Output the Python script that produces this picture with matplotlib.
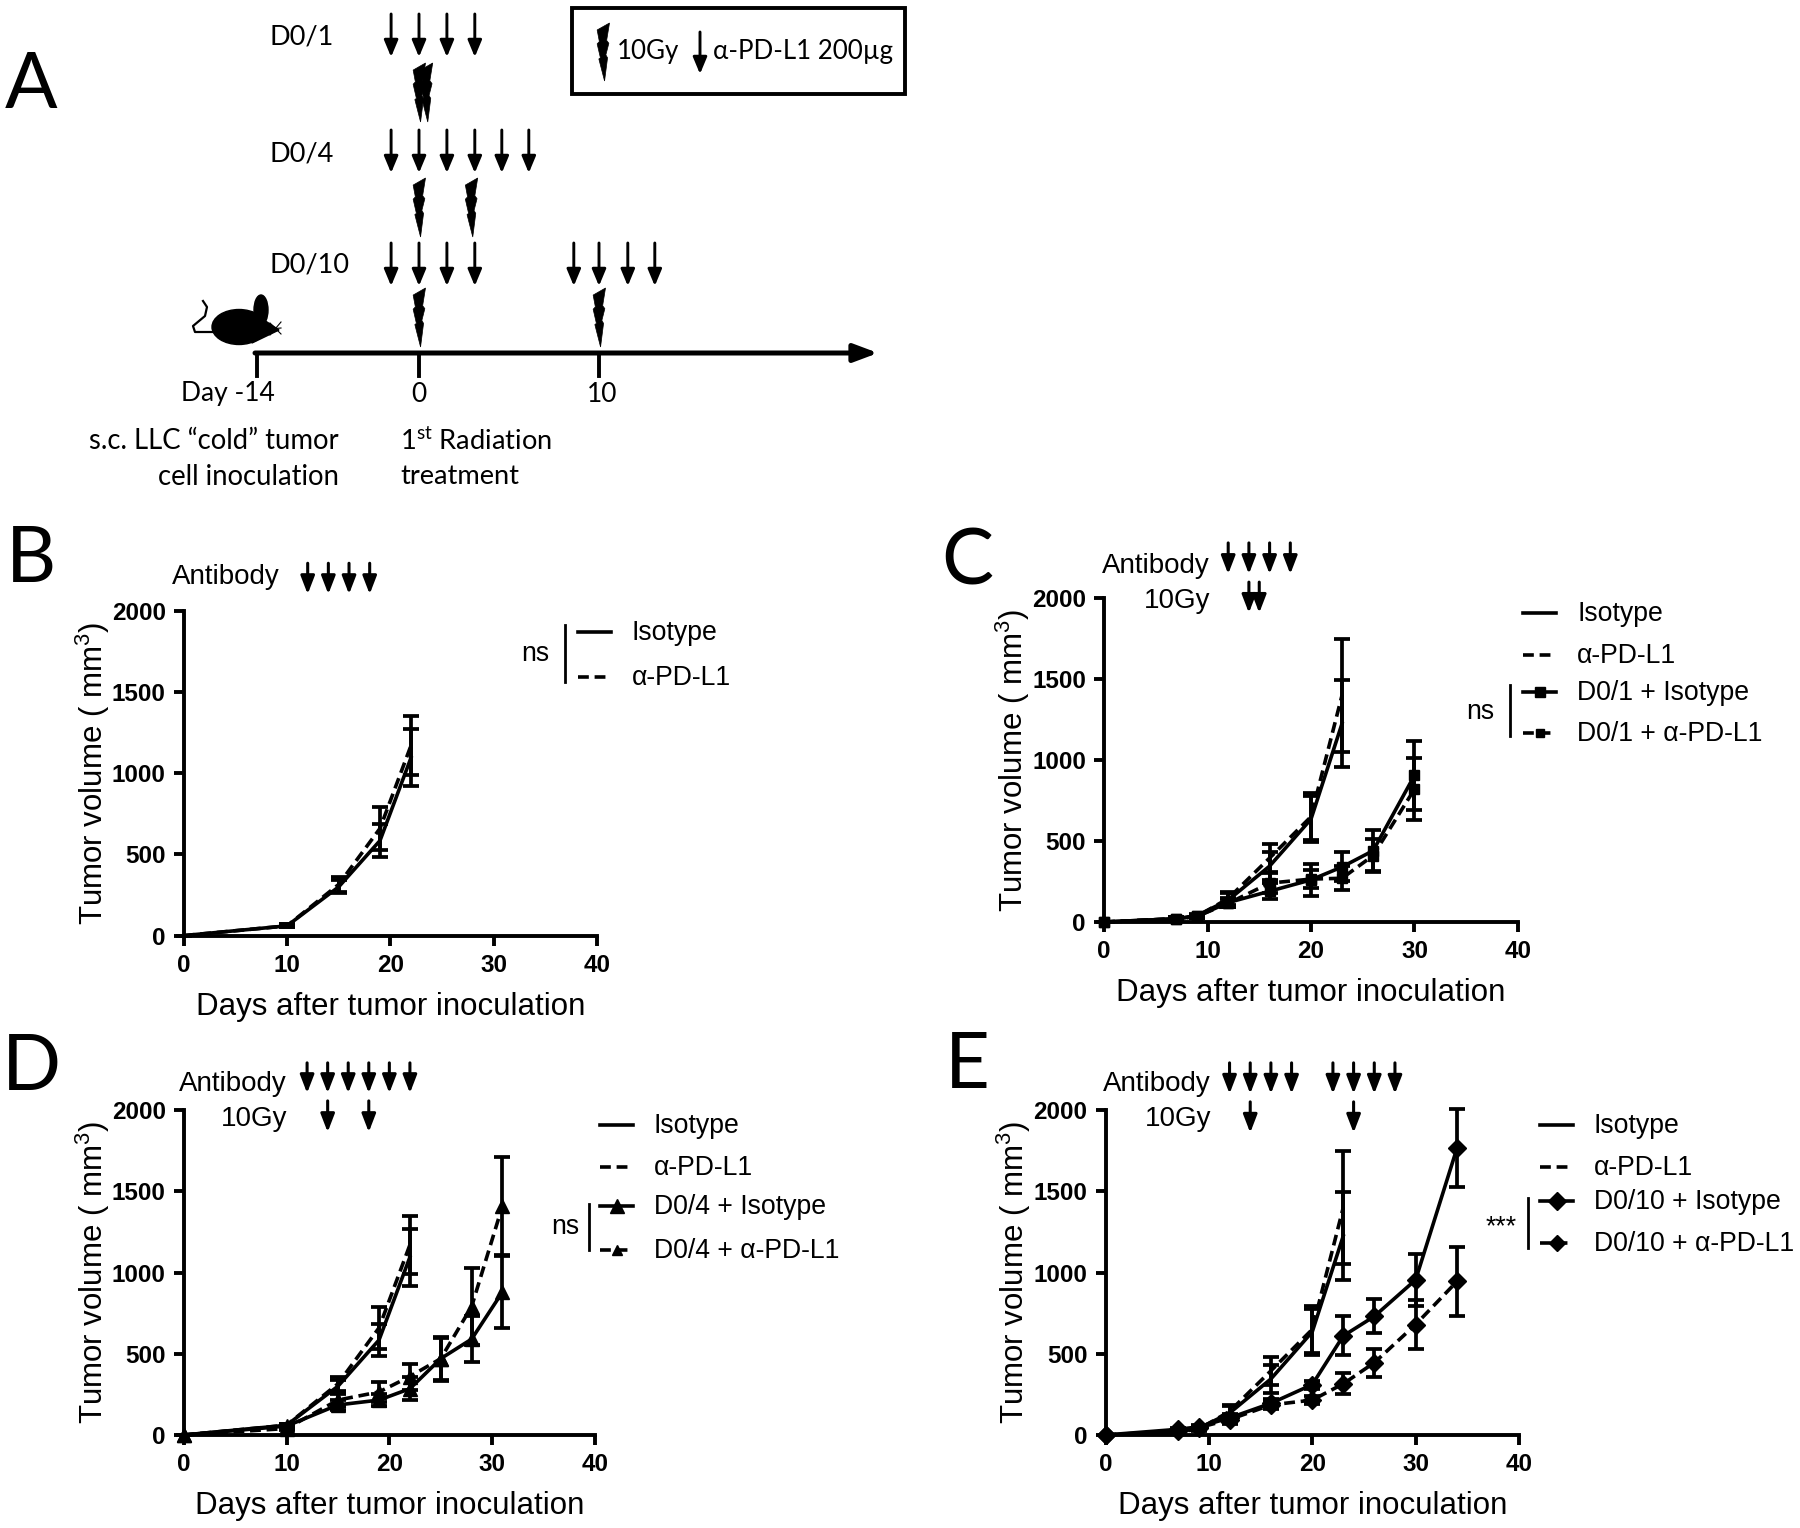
import matplotlib
matplotlib.use("Agg")
import matplotlib.pyplot as plt
from matplotlib.patches import Ellipse, Polygon, Rectangle
from matplotlib.transforms import blended_transform_factory

plt.rcParams['font.family'] = ['Liberation Sans', 'DejaVu Sans']
plt.rcParams['mathtext.default'] = 'regular'

W, H = 1800, 1528

# shared control groups
ctrl_b_days = [0, 10, 15, 19, 22]
ctrl_b_iso = [0, 60, 300, 585, 1095]
ctrl_b_iso_err = [0, 10, 40, 100, 175]
ctrl_b_pd = [0, 60, 315, 660, 1170]
ctrl_b_pd_err = [0, 10, 45, 130, 180]

ctrl_c_days = [0, 7, 9, 12, 16, 20, 23]
ctrl_c_iso = [0, 20, 40, 135, 345, 635, 1225]
ctrl_c_iso_err = [0, 8, 10, 45, 88, 140, 270]
ctrl_c_pd = [0, 20, 35, 145, 395, 650, 1400]
ctrl_c_pd_err = [0, 8, 10, 40, 85, 145, 350]

# D0/1
d1_days = [0, 7, 9, 12, 16, 20, 23, 26, 30]
d1_iso = [0, 20, 35, 120, 190, 260, 340, 440, 905]
d1_iso_err = [0, 8, 10, 30, 50, 100, 90, 125, 213]
d1_pd = [0, 20, 35, 115, 240, 265, 270, 410, 820]
d1_pd_err = [0, 8, 10, 25, 60, 55, 75, 100, 190]

# D0/4
d4_days = [0, 10, 15, 19, 22, 25, 28, 31]
d4_iso = [0, 55, 185, 215, 285, 470, 590, 880]
d4_iso_err = [0, 10, 30, 35, 70, 130, 140, 220]
d4_pd = [0, 40, 215, 265, 360, 470, 790, 1410]
d4_pd_err = [0, 10, 35, 60, 80, 135, 235, 300]

# D0/10
d10_days = [0, 7, 9, 12, 16, 20, 23, 26, 30, 34]
d10_iso = [0, 35, 50, 105, 195, 310, 610, 730, 955, 1765]
d10_iso_err = [0, 10, 10, 25, 25, 25, 120, 105, 160, 240]
d10_pd = [0, 25, 45, 95, 185, 215, 315, 445, 680, 945]
d10_pd_err = [0, 10, 10, 25, 25, 25, 65, 87, 148, 215]

# treatment days above the plots
ab_b = [12, 14, 16, 18]
ab_c = [12, 14, 16, 18]
gy_c = [14, 15]
ab_d = [12, 14, 16, 18, 20, 22]
gy_d = [14, 18]
ab_e = [12, 14, 16, 18, 22, 24, 26, 28]
gy_e = [14, 24]

# schedule in panel A
sched_rows = ["D0/1", "D0/4", "D0/10"]
sched_ab = [[-1.55, 0, 1.55, 3.1],
            [-1.55, 0, 1.55, 3.1, 4.6, 6.1],
            [-1.55, 0, 1.55, 3.1, 8.6, 10, 11.6, 13.1]]
sched_gy = [[0, 0.4], [0, 2.9], [0, 10]]
sched_tick_labels = ["Day -14", "0", "10"]

BOLT = [(1.0, 0), (0.05, 0.12), (0.22, 0.32), (0.05, 0.36), (0.3, 0.6), (0.18, 0.62),
        (0.62, 1.0), (0.85, 0.6), (0.72, 0.55), (0.95, 0.35), (0.78, 0.3)]


def day_px(day):
    # timeline of panel A is not to scale before day 0
    return 419 + 18 * day


def down_arrow(ax, x, y0, y1, lw=2.1):
    ax.annotate("", xy=(x, y1), xytext=(x, y0), xycoords="data", textcoords="data",
                arrowprops=dict(arrowstyle="-|>,head_width=0.3,head_length=0.72",
                                lw=lw, color="k", shrinkA=0, shrinkB=0, mutation_scale=14))


def bolt(ax, x, y0, y1, w=13):
    pts = [(x - w / 2 + w * px, y0 + (y1 - y0) * py) for px, py in BOLT]
    ax.add_patch(Polygon(pts, closed=True, fc="k", ec="k", lw=0.5))


def top_arrows(ax, days, f0, f1):
    trans = blended_transform_factory(ax.transData, ax.transAxes)
    for d in days:
        ax.annotate("", xy=(d, f1), xytext=(d, f0), xycoords=trans, textcoords=trans,
                    annotation_clip=False,
                    arrowprops=dict(arrowstyle="-|>,head_width=0.3,head_length=0.78",
                                    lw=2.2, color="k", shrinkA=0, shrinkB=0,
                                    mutation_scale=14))


def series(ax, x, y, e, ls, marker=None, ms=0):
    ax.errorbar(x, y, yerr=e, color="k", lw=2.6, ls=ls, marker=marker, ms=ms,
                elinewidth=2.7, capsize=5.8, capthick=2.7, clip_on=False, zorder=3)


def panel(rect):
    left, bottom, right, top = rect
    ax = fig.add_axes([left / W, 1 - bottom / H, (right - left) / W, (bottom - top) / H])
    ax.set_xlim(0, 40)
    ax.set_ylim(0, 2000)
    ax.set_xticks([0, 10, 20, 30, 40])
    ax.set_yticks([0, 500, 1000, 1500, 2000])
    for s in ["top", "right"]:
        ax.spines[s].set_visible(False)
    for s in ["left", "bottom"]:
        ax.spines[s].set_linewidth(2.8)
    ax.tick_params(length=7, width=2.8, labelsize=17.5, pad=6)
    for t in ax.get_xticklabels() + ax.get_yticklabels():
        t.set_fontweight("bold")
    ax.set_xlabel("Days after tumor inoculation", fontsize=22.5, labelpad=11)
    ax.set_ylabel("Tumor volume ( mm$^3$)", fontsize=22.5, labelpad=0)
    return ax


def legend_row(x0, x1, y, label, ls, marker=None, ms=0):
    ov.plot([x0, x1], [y, y], color="k", lw=2.6, ls=ls)
    if marker:
        ov.plot([(x0 + x1) / 2], [y], color="k", marker=marker, ms=ms)
    ov.text(x1 + 21, y + 1, label, fontsize=19.2, va="center", ha="left")


def bracket(x, y0, y1, label, tx, ty):
    ov.plot([x, x], [y0, y1], color="k", lw=2.0)
    ov.text(tx, ty, label, fontsize=19.2, ha="center", va="center")


fig = plt.figure(figsize=(W / 100, H / 100), dpi=100)

# plots B-E
ax_b = panel((183.7, 935.6, 597, 610.7))
series(ax_b, ctrl_b_days, ctrl_b_pd, ctrl_b_pd_err, (0, (3, 1.6)))
series(ax_b, ctrl_b_days, ctrl_b_iso, ctrl_b_iso_err, "-")
top_arrows(ax_b, ab_b, 1.146, 1.051)

ax_c = panel((1104, 922, 1518, 598))
series(ax_c, ctrl_c_days, ctrl_c_pd, ctrl_c_pd_err, (0, (3, 1.6)))
series(ax_c, ctrl_c_days, ctrl_c_iso, ctrl_c_iso_err, "-")
series(ax_c, d1_days, d1_pd, d1_pd_err, (0, (3, 1.6)), "s", 7.5)
series(ax_c, d1_days, d1_iso, d1_iso_err, "-", "s", 7.5)
top_arrows(ax_c, ab_c, 1.17, 1.074)
top_arrows(ax_c, gy_c, 1.049, 0.954)

ax_d = panel((183.7, 1435, 595, 1110))
series(ax_d, ctrl_b_days, ctrl_b_pd, ctrl_b_pd_err, (0, (3, 1.6)))
series(ax_d, ctrl_b_days, ctrl_b_iso, ctrl_b_iso_err, "-")
series(ax_d, d4_days, d4_pd, d4_pd_err, (0, (3, 1.6)), "^", 10)
series(ax_d, d4_days, d4_iso, d4_iso_err, "-", "^", 10)
top_arrows(ax_d, ab_d, 1.145, 1.052)
top_arrows(ax_d, gy_d, 1.028, 0.932)

ax_e = panel((1105.5, 1435, 1519, 1110))
series(ax_e, ctrl_c_days, ctrl_c_pd, ctrl_c_pd_err, (0, (3, 1.6)))
series(ax_e, ctrl_c_days, ctrl_c_iso, ctrl_c_iso_err, "-")
series(ax_e, d10_days, d10_pd, d10_pd_err, (0, (3, 1.6)), "D", 9)
series(ax_e, d10_days, d10_iso, d10_iso_err, "-", "D", 9)
top_arrows(ax_e, ab_e, 1.145, 1.05)
top_arrows(ax_e, gy_e, 1.025, 0.93)

# overlay in pixels for everything that is not a plot
ov = fig.add_axes([0, 0, 1, 1], zorder=5)
ov.set_xlim(0, W)
ov.set_ylim(H, 0)
ov.axis("off")
ov.patch.set_alpha(0)

# legends
ov.text(280, 577, "Antibody", fontsize=20, ha="right", va="center")
legend_row(578, 611, 632, "Isotype", "-")
legend_row(578, 611, 677, "\u03b1-PD-L1", (0, (3, 1.6)))
bracket(565, 625, 682, "ns", 535, 654)

ov.text(1210, 566, "Antibody", fontsize=20, ha="right", va="center")
ov.text(1210, 601, "10Gy", fontsize=20, ha="right", va="center")
legend_row(1523, 1556, 613, "Isotype", "-")
legend_row(1523, 1556, 655, "\u03b1-PD-L1", (0, (3, 1.6)))
legend_row(1523, 1556, 692, "D0/1 + Isotype", "-", "s", 7.5)
legend_row(1523, 1556, 733, "D0/1 + \u03b1-PD-L1", (0, (3, 1.6)), "s", 6)
bracket(1510, 685, 736, "ns", 1480, 712)

ov.text(287, 1084, "Antibody", fontsize=20, ha="right", va="center")
ov.text(287, 1119, "10Gy", fontsize=20, ha="right", va="center")
legend_row(600, 633, 1125, "Isotype", "-")
legend_row(600, 633, 1167, "\u03b1-PD-L1", (0, (3, 1.6)))
legend_row(600, 633, 1206, "D0/4 + Isotype", "-", "^", 10)
legend_row(600, 633, 1250, "D0/4 + \u03b1-PD-L1", (0, (3, 1.6)), "^", 7.5)
bracket(589, 1204, 1250, "ns", 565, 1227)

ov.text(1211, 1084, "Antibody", fontsize=20, ha="right", va="center")
ov.text(1211, 1119, "10Gy", fontsize=20, ha="right", va="center")
legend_row(1540, 1573, 1125, "Isotype", "-")
legend_row(1540, 1573, 1167, "\u03b1-PD-L1", (0, (3, 1.6)))
legend_row(1540, 1573, 1201, "D0/10 + Isotype", "-", "D", 9)
legend_row(1540, 1573, 1243, "D0/10 + \u03b1-PD-L1", (0, (3, 1.6)), "D", 8)
bracket(1528, 1198, 1248, "***", 1501, 1227)

# panel letters
for letter, x, y in [("A", 31, 87), ("B", 31, 560), ("C", 967, 563),
                     ("D", 31, 1068), ("E", 967, 1067)]:
    ov.text(x, y, letter, fontsize=56, family="Lato", ha="center", va="center")

# panel A schedule
arrow_tops = [14, 130, 243]
bolt_tops = [63, 178, 288]
label_ys = [37, 154, 265]
for row, name in enumerate(sched_rows):
    ov.text(270, label_ys[row], name, fontsize=19.5, family="Lato", ha="left", va="center")
    for d in sched_ab[row]:
        down_arrow(ov, day_px(d), arrow_tops[row], arrow_tops[row] + 43)
    for d in sched_gy[row]:
        bolt(ov, day_px(d), bolt_tops[row], bolt_tops[row] + 59)

# timeline, its day -14 end is drawn shortened
tick_px = [257, day_px(0), day_px(10)]
label_px = [228, day_px(0), day_px(10) + 3]
ov.annotate("", xy=(878, 353), xytext=(255, 353),
            arrowprops=dict(arrowstyle="-|>,head_width=0.3,head_length=0.8", lw=3.6,
                            color="k", shrinkA=0, shrinkB=0, mutation_scale=18))
for px, lx, lab in zip(tick_px, label_px, sched_tick_labels):
    ov.plot([px, px], [353, 376], color="k", lw=2.8)
    ov.text(lx, 394, lab, fontsize=19, family="Lato", ha="center", va="center")
ov.text(339, 441, "s.c. LLC \u201ccold\u201d tumor", fontsize=19.8, family="Lato", ha="right", va="center")
ov.text(339, 477, "cell inoculation", fontsize=19.8, family="Lato", ha="right", va="center")
ov.text(400, 441, "1$^{st}$ Radiation", fontsize=19.6, family="Lato", ha="left", va="center")
ov.text(400, 477, "treatment", fontsize=19.6, family="Lato", ha="left", va="center")

# key box
ov.add_patch(Rectangle((572, 8), 333, 86, fc="none", ec="k", lw=2.8))
bolt(ov, 603, 23, 81)
ov.text(617, 51, "10Gy", fontsize=18.6, family="Lato", ha="left", va="center")
down_arrow(ov, 700, 32, 74)
ov.text(713, 51, "\u03b1-PD-L1 200\u00b5g", fontsize=18.6, family="Lato", ha="left", va="center")

# mouse
ov.add_patch(Ellipse((239, 327), 54, 35, fc="k", ec="k"))
ov.add_patch(Ellipse((261, 310), 14, 30, fc="k", ec="k"))
ov.add_patch(Polygon([(252, 312), (279, 330), (252, 343)], closed=True, fc="k", ec="k"))
ov.plot([213, 195, 193, 205, 207, 203], [332, 332, 326, 316, 307, 301], color="k", lw=1.6)
for wy in [322, 328, 334]:
    ov.plot([270, 281], [wy + 1, 2 * 328 - wy], color="k", lw=0.8)

fig.savefig("out.png", dpi=100)
